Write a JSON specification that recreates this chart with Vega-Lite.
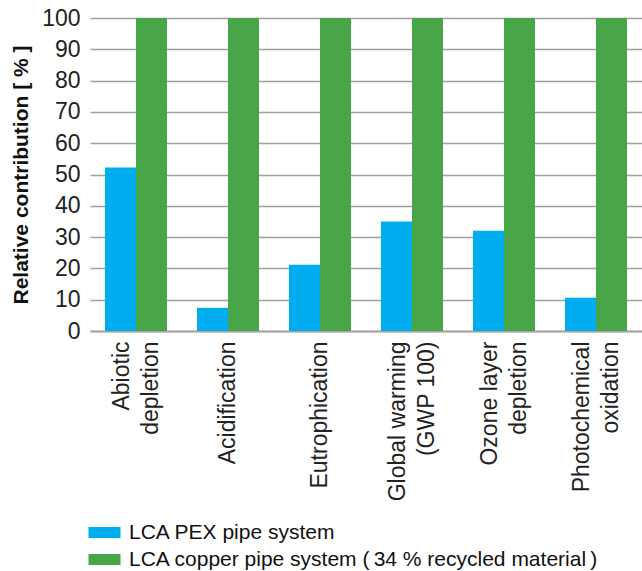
{
  "$schema": "https://vega.github.io/schema/vega-lite/v6.json",
  "autosize": "none",
  "width": 552,
  "height": 313,
  "padding": {"left": 90, "top": 18, "right": 0, "bottom": 240},
  "background": "white",
  "data": {
    "values": [
      {"category": "Abiotic depletion", "system": "LCA PEX pipe system", "value": 52.2},
      {"category": "Abiotic depletion", "system": "LCA copper pipe system (\u200934 % recycled material\u2009)", "value": 100},
      {"category": "Acidification", "system": "LCA PEX pipe system", "value": 7.4},
      {"category": "Acidification", "system": "LCA copper pipe system (\u200934 % recycled material\u2009)", "value": 100},
      {"category": "Eutrophication", "system": "LCA PEX pipe system", "value": 21.2},
      {"category": "Eutrophication", "system": "LCA copper pipe system (\u200934 % recycled material\u2009)", "value": 100},
      {"category": "Global warming (GWP 100)", "system": "LCA PEX pipe system", "value": 35},
      {"category": "Global warming (GWP 100)", "system": "LCA copper pipe system (\u200934 % recycled material\u2009)", "value": 100},
      {"category": "Ozone layer depletion", "system": "LCA PEX pipe system", "value": 32},
      {"category": "Ozone layer depletion", "system": "LCA copper pipe system (\u200934 % recycled material\u2009)", "value": 100},
      {"category": "Photochemical oxidation", "system": "LCA PEX pipe system", "value": 10.6},
      {"category": "Photochemical oxidation", "system": "LCA copper pipe system (\u200934 % recycled material\u2009)", "value": 100}
    ]
  },
  "mark": {"type": "bar"},
  "encoding": {
    "x": {
      "field": "category",
      "type": "nominal",
      "sort": null,
      "scale": {"paddingInner": 0.326, "paddingOuter": 0.163},
      "axis": {
        "title": null,
        "labelAngle": -90,
        "labelAlign": "right",
        "labelBaseline": "middle",
        "labelFont": "Liberation Sans",
        "labelFontSize": 23,
        "labelColor": "#222222",
        "labelLineHeight": 29,
        "labelPadding": 10,
        "labelLimit": 300,
        "labelOffset": {
          "condition": {"test": "datum.value != 'Acidification' && datum.value != 'Eutrophication'", "value": -14.5},
          "value": 0
        },
        "ticks": false,
        "domainColor": "#a6a6a6",
        "domainWidth": 2,
        "grid": false,
        "labelExpr": "datum.value == 'Abiotic depletion' ? ['Abiotic', 'depletion'] : datum.value == 'Global warming (GWP 100)' ? ['Global warming', '(GWP 100)'] : datum.value == 'Ozone layer depletion' ? ['Ozone layer', 'depletion'] : datum.value == 'Photochemical oxidation' ? ['Photochemical', 'oxidation'] : datum.value"
      }
    },
    "xOffset": {
      "field": "system",
      "type": "nominal",
      "sort": ["LCA PEX pipe system", "LCA copper pipe system (\u200934 % recycled material\u2009)"],
      "scale": {"paddingInner": 0, "paddingOuter": 0}
    },
    "y": {
      "field": "value",
      "type": "quantitative",
      "scale": {"domain": [0, 100], "nice": false},
      "axis": {
        "title": "Relative contribution [ % ]",
        "titleFont": "Liberation Sans",
        "titleFontSize": 21,
        "titleFontWeight": "bold",
        "titleColor": "#111111",
        "titlePadding": 10,
        "values": [0, 10, 20, 30, 40, 50, 60, 70, 80, 90, 100],
        "labelFont": "Liberation Sans",
        "labelFontSize": 23,
        "labelColor": "#222222",
        "labelPadding": 10,
        "ticks": false,
        "domain": false,
        "grid": true,
        "gridColor": "#a0a0a0",
        "gridWidth": 1.5
      }
    },
    "color": {
      "field": "system",
      "type": "nominal",
      "sort": ["LCA PEX pipe system", "LCA copper pipe system (\u200934 % recycled material\u2009)"],
      "scale": {
        "domain": ["LCA PEX pipe system", "LCA copper pipe system (\u200934 % recycled material\u2009)"],
        "range": ["#00adef", "#48a548"]
      },
      "legend": {
        "title": null,
        "orient": "bottom",
        "direction": "vertical",
        "offset": 21,
        "labelFont": "Liberation Sans",
        "labelFontSize": 21,
        "labelColor": "#111111",
        "labelOffset": 18,
        "labelLimit": 600,
        "symbolType": "M-1.2,-0.55h3.2v1.1h-3.2z",
        "symbolSize": 400,
        "symbolStrokeWidth": 0,
        "symbolOpacity": 1,
        "rowPadding": 5
      }
    }
  },
  "config": {
    "view": {"stroke": null}
  }
}
